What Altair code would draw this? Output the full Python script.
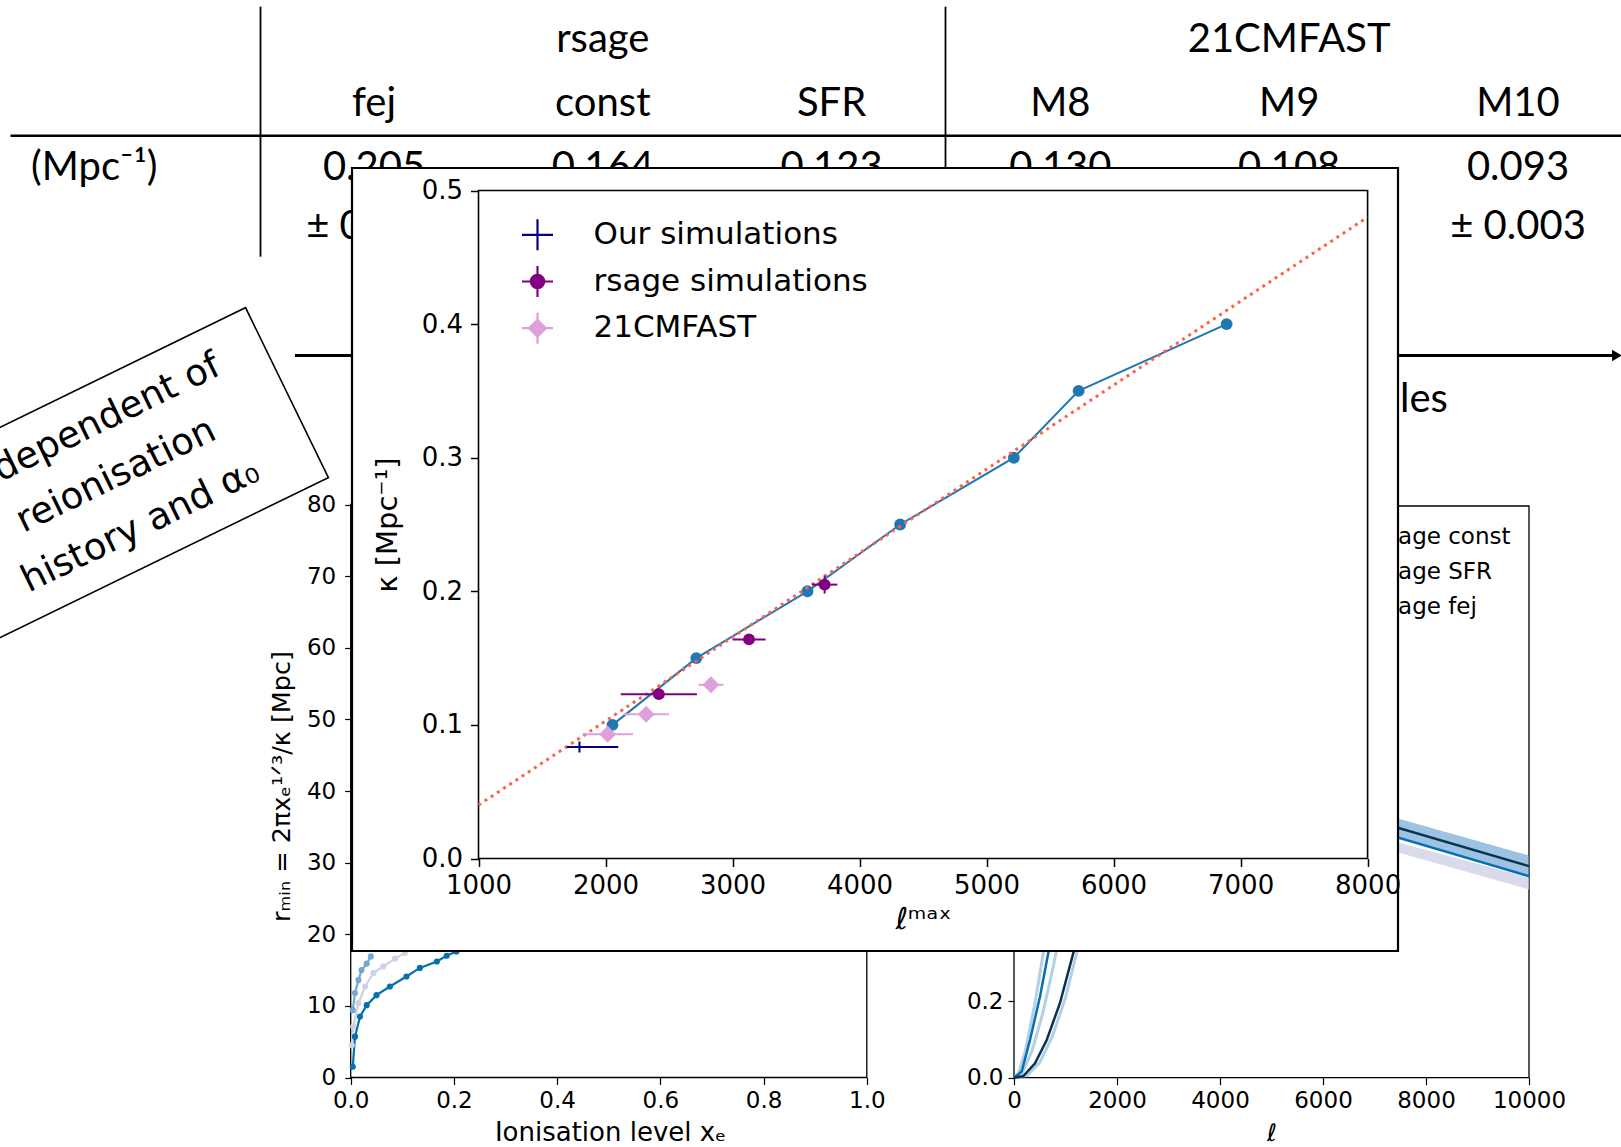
import altair as alt
import pandas as pd

# ---------------- slide table ----------------
table_groups = ["rsage", "21CMFAST"]
table_group_span = [[1, 3], [4, 6]]
table_cols = ["fej", "const", "SFR", "M8", "M9", "M10"]
table_kappa = ["0.205", "0.164", "0.123", "0.130", "0.108", "0.093"]
# only the first (partly) and last uncertainties can be seen; the rest sit under the inset
table_err = ["± 0.005", "", "", "", "", "± 0.003"]
table_row_label = "(Mpc⁻¹)"
table_row_index = [0, 1, 2, 2.92]   # header, sub-header, value, uncertainty

# ---------------- slide annotations ----------------
box_lines = ["Independent of", "reionisation", "history and α₀"]
arrow_caption = "les"

# ---------------- main chart: kappa vs l_max ----------------
x_domain = [1000, 8000]
y_domain = [0.0, 0.5]
sim_lmax = [2055, 2715, 3590, 4320, 5215, 5725, 6890]
sim_kappa = [0.100, 0.150, 0.200, 0.250, 0.300, 0.350, 0.400]
fit_lmax = [1000, 8000]
fit_kappa = [0.040, 0.480]
our_lmax = [1795]
our_kappa = [0.0835]
our_lmax_lo = [1695]
our_lmax_hi = [2100]
rsage_lmax = [2420, 3130, 3725]
rsage_kappa = [0.123, 0.164, 0.205]
rsage_lmax_err = [300, 130, 100]
rsage_kappa_err = [0.004, 0.004, 0.0067]
cm_lmax = [2830, 2320, 2017]
cm_kappa = [0.130, 0.108, 0.093]
cm_lmax_err = [98, 180, 200]
cm_kappa_err = [0.003, 0.003, 0.003]
legend_labels = ["Our simulations", "rsage simulations", "21CMFAST"]
legend_colors = ["#000080", "#800080", "#dda0dd"]

# ---------------- background plot (left): r_min vs x_e ----------------
left_series = ["light", "lavender", "dark"]
left_colors = ["#74a9cf", "#d0d1e6", "#0570b0"]
xe_light = [0.004, 0.0083, 0.015, 0.021, 0.031, 0.039]
r_light = [9.4, 11.8, 13.6, 15.0, 15.9, 16.9]
xe_lav = [0.002, 0.005, 0.015, 0.028, 0.044, 0.063, 0.086, 0.105]
r_lav = [4.5, 7.1, 10.4, 12.7, 14.6, 15.5, 16.6, 17.4]
xe_dark = [0.004, 0.0083, 0.018, 0.031, 0.050, 0.076, 0.108, 0.134, 0.167, 0.186, 0.205]
r_dark = [1.5, 5.7, 8.5, 10.1, 11.5, 12.7, 14.1, 15.3, 16.2, 17.0, 17.6]

# ---------------- background plot (right): curves vs l ----------------
right_labels = ["rsage const", "rsage SFR", "rsage fej"]
ell_dark = [0, 181, 408, 635, 893, 1151, 1400, 7456, 10000]
val_dark = [0.0, 0.004, 0.038, 0.099, 0.196, 0.327, 0.45, 0.656, 0.555]
ell_blue = [0, 149, 311, 505, 666, 900, 7456, 10000]
val_blue = [0.0, 0.016, 0.099, 0.213, 0.327, 0.5, 0.630, 0.529]
ell_fan1 = [0, 80, 220, 400, 569, 800]
val_fan1 = [0.0, 0.01, 0.07, 0.19, 0.327, 0.5]
ell_fan2 = [0, 150, 350, 560, 760, 950]
val_fan2 = [0.0, 0.01, 0.07, 0.17, 0.29, 0.42]
ell_fan3 = [0, 250, 500, 750, 1000, 1217, 1450]
val_fan3 = [0.0, 0.005, 0.04, 0.11, 0.21, 0.327, 0.45]
ell_band = [7456, 10000]
band_hi = [0.680, 0.583]
band_lo = [0.630, 0.525]
ell_lav = [7456, 10000]
lav_hi = [0.617, 0.525]
lav_lo = [0.591, 0.494]

T_FONT = "Lato"
M_FONT = "DejaVu Sans"
one = pd.DataFrame({"k": [0]})

# ================= table =================
rows = []
for g, (a, b) in zip(table_groups, table_group_span):
    rows.append({"col": (a + b) / 2, "row": table_row_index[0], "text": g})
for i, c in enumerate(table_cols, 1):
    rows.append({"col": i, "row": table_row_index[1], "text": c})
    rows.append({"col": i, "row": table_row_index[2], "text": table_kappa[i - 1]})
    if table_err[i - 1]:
        rows.append({"col": i, "row": table_row_index[3], "text": table_err[i - 1]})
table_df = pd.DataFrame(rows)
TX = alt.Scale(domain=[1, 6], range=[374, 1518], nice=False, zero=False)
TY = alt.Scale(domain=[0, 2], range=[51.7, 180], nice=False, zero=False)
table_text = alt.Chart(table_df).mark_text(
    font=T_FONT, fontSize=40, align="center", baseline="alphabetic", color="black"
).encode(
    x=alt.X("col:Q", scale=TX, axis=None),
    y=alt.Y("row:Q", scale=TY, axis=None),
    text="text:N",
)
row_label = alt.Chart(one).mark_text(
    font=T_FONT, fontSize=40, align="left", baseline="alphabetic", color="black"
).encode(x=alt.value(31), y=alt.value(180), text=alt.value(table_row_label))


def hrule(x1, x2, y, w):
    return alt.Chart(one).mark_rule(color="black", strokeWidth=w).encode(
        x=alt.value(x1), x2=alt.value(x2), y=alt.value(y))


def vrule(x, y1, y2, w):
    return alt.Chart(one).mark_rule(color="black", strokeWidth=w).encode(
        x=alt.value(x), y=alt.value(y1), y2=alt.value(y2))


table_lines = alt.layer(
    hrule(10.5, 1621, 135.7, 2.5),
    vrule(260.5, 6.7, 256.7, 1.8),
    vrule(945.5, 6.7, 256.7, 1.8),
)

arrow = alt.layer(
    hrule(295, 1616, 355.5, 3),
    alt.Chart(one).mark_point(shape="triangle-right", size=130, filled=True, color="black", opacity=1)
    .encode(x=alt.value(1617), y=alt.value(355.5)),
    alt.Chart(one).mark_text(font=T_FONT, fontSize=40, align="left", baseline="alphabetic", color="black")
    .encode(x=alt.value(1400), y=alt.value(411.7), text=alt.value(arrow_caption)),
)

# ================= left background plot =================
LX = alt.Scale(domain=[0, 1], range=[350.7, 866.8], nice=False, zero=False)
LY = alt.Scale(domain=[0, 80], range=[1077.5, 504.5], nice=False, zero=False)
lx_axis = alt.Axis(orient="bottom", offset=-69.5, values=[0, 0.2, 0.4, 0.6, 0.8, 1.0], format=".1f",
                   labelFont=M_FONT, labelFontSize=23, labelColor="black", tickColor="black", tickSize=7,
                   tickWidth=1.2, domain=False, grid=False, labelPadding=5, labelFlush=False, labelOverlap=False,
                   title="Ionisation level xₑ", titleFont=M_FONT, titleFontSize=26, titleFontWeight="normal",
                   titleColor="black", titleX=610, titleY=62.5, titleBaseline="alphabetic", titleAlign="center")
ly_axis = alt.Axis(orient="left", offset=-350.7, values=list(range(0, 81, 10)), format="d",
                   labelFont=M_FONT, labelFontSize=23, labelColor="black", tickColor="black", tickSize=6,
                   tickWidth=1.2, domain=False, grid=False, labelPadding=9, labelFlush=False, labelOverlap=False,
                   title="rₘᵢₙ = 2πxₑ¹ᐟ³/κ [Mpc]", titleFont=M_FONT, titleFontSize=25.5, titleFontWeight="normal",
                   titleColor="black", titleX=-69, titleY=786, titleAngle=270, titleBaseline="middle",
                   titleAlign="center")
left_df = pd.concat([
    pd.DataFrame({"series": "light", "xe": xe_light, "r": r_light}),
    pd.DataFrame({"series": "lavender", "xe": xe_lav, "r": r_lav}),
    pd.DataFrame({"series": "dark", "xe": xe_dark, "r": r_dark}),
])
lcol = alt.Color("series:N", scale=alt.Scale(domain=left_series, range=left_colors), legend=None)
left_frame = alt.Chart(pd.DataFrame({"x": [0], "x2": [1], "y": [0], "y2": [80]})).mark_rect(
    fill="transparent", stroke="black", strokeWidth=1.3
).encode(x=alt.X("x:Q", scale=LX, axis=lx_axis), x2="x2:Q",
         y=alt.Y("y:Q", scale=LY, axis=ly_axis), y2="y2:Q")
left_lines = alt.Chart(left_df).mark_line(strokeWidth=2.2).encode(
    x=alt.X("xe:Q", scale=LX, axis=lx_axis), y=alt.Y("r:Q", scale=LY, axis=ly_axis), color=lcol,
    detail="series:N")
left_pts = alt.Chart(left_df).mark_circle(size=38, opacity=1).encode(
    x=alt.X("xe:Q", scale=LX, axis=lx_axis), y=alt.Y("r:Q", scale=LY, axis=ly_axis), color=lcol)
left_plot = alt.layer(left_frame, left_lines, left_pts)

# ================= right background plot =================
RX = alt.Scale(domain=[0, 10000], range=[1014, 1529], nice=False, zero=False)
RY = alt.Scale(domain=[0, 1.5], range=[1077.7, 506], nice=False, zero=False)
rx_axis = alt.Axis(orient="bottom", offset=-69.3, values=list(range(0, 10001, 2000)), format="d",
                   labelFont=M_FONT, labelFontSize=23, labelColor="black", tickColor="black", tickSize=7,
                   tickWidth=1.2, domain=False, grid=False, labelPadding=5, labelFlush=False, labelOverlap=False,
                   title="ℓ", titleFont=M_FONT, titleFontSize=24, titleFontWeight="normal",
                   titleColor="black", titleX=1271.5, titleY=56, titleBaseline="middle", titleAlign="center")
ry_axis = alt.Axis(orient="left", offset=-1014, values=[0, 0.2, 0.4, 0.6, 0.8, 1.0, 1.2, 1.4], format=".1f",
                   labelFont=M_FONT, labelFontSize=23, labelColor="black", tickColor="black", tickSize=6,
                   tickWidth=1.2, domain=False, grid=False, labelPadding=5, labelFlush=False, labelOverlap=False,
                   title="")
rxe = alt.X("ell:Q", scale=RX, axis=rx_axis)


def ry(f):
    return alt.Y(f, scale=RY, axis=ry_axis)


right_frame = alt.Chart(pd.DataFrame({"ell": [0], "x2": [10000], "v": [0], "y2": [1.5]})).mark_rect(
    fill="transparent", stroke="black", strokeWidth=1.3
).encode(x=rxe, x2="x2:Q", y=ry("v:Q"), y2="y2:Q")
right_band = alt.Chart(pd.DataFrame({"ell": ell_band, "lo": band_lo, "hi": band_hi})).mark_area(
    color="#5a9bd0", opacity=0.6).encode(x=rxe, y=ry("lo:Q"), y2="hi:Q")
right_lav = alt.Chart(pd.DataFrame({"ell": ell_lav, "lo": lav_lo, "hi": lav_hi})).mark_area(
    color="#c9cbe3", opacity=0.7).encode(x=rxe, y=ry("lo:Q"), y2="hi:Q")
fan_df = pd.concat([
    pd.DataFrame({"s": "f1", "ell": ell_fan1, "v": val_fan1}),
    pd.DataFrame({"s": "f2", "ell": ell_fan2, "v": val_fan2}),
    pd.DataFrame({"s": "f3", "ell": ell_fan3, "v": val_fan3}),
])
right_fan = alt.Chart(fan_df).mark_line(color="#74a9cf", strokeWidth=3, opacity=0.55).encode(
    x=rxe, y=ry("v:Q"), detail="s:N")
right_blue = alt.Chart(pd.DataFrame({"ell": ell_blue, "v": val_blue})).mark_line(
    color="#0570b0", strokeWidth=2.5).encode(x=rxe, y=ry("v:Q"))
right_dark = alt.Chart(pd.DataFrame({"ell": ell_dark, "v": val_dark})).mark_line(
    color="#0b3350", strokeWidth=2.5).encode(x=rxe, y=ry("v:Q"))
right_legend = alt.Chart(one).mark_text(
    font=M_FONT, fontSize=23, align="left", baseline="alphabetic", color="black",
    lineBreak="\n", lineHeight=35
).encode(x=alt.value(1376.6), y=alt.value(544), text=alt.value("\n".join(right_labels)))
right_plot = alt.layer(right_frame, right_lav, right_band, right_fan, right_blue, right_dark, right_legend)

# ================= rotated note box =================
note = alt.layer(
    alt.Chart(one).mark_point(
        shape="M-1,-0.5027L1,-0.5027L1,0.5027L-1,0.5027Z", size=141376, angle=334,
        filled=True, fill="white", stroke="black", strokeWidth=1.6, opacity=1
    ).encode(x=alt.value(118), y=alt.value(475)),
    alt.Chart(one).mark_text(
        font=M_FONT, fontSize=37, angle=334, align="center", baseline="alphabetic",
        lineBreak="\n", lineHeight=56, color="black"
    ).encode(x=alt.value(96.3), y=alt.value(435.3), text=alt.value("\n".join(box_lines))),
)

# ================= inset white box =================
inset_box = alt.Chart(one).mark_rect(fill="white", stroke="black", strokeWidth=2.2).encode(
    x=alt.value(352), x2=alt.value(1398), y=alt.value(168), y2=alt.value(951))

# ================= main chart =================
MX = alt.Scale(domain=x_domain, range=[478.5, 1367.6], nice=False, zero=False)
MY = alt.Scale(domain=y_domain, range=[858.5, 190.5], nice=False, zero=False)
mx_axis = alt.Axis(orient="bottom", offset=-288.5, values=list(range(1000, 8001, 1000)), format="d",
                   labelFont=M_FONT, labelFontSize=26, labelColor="black", tickColor="black", tickSize=8,
                   tickWidth=1.5, domain=False, grid=False, labelPadding=6, labelFlush=False, labelOverlap=False,
                   title="ℓᵐᵃˣ", titleFont=M_FONT, titleFontSize=30, titleFontWeight="normal",
                   titleColor="black", titleX=923, titleY=61, titleBaseline="middle", titleAlign="center",
                   zindex=1)
my_axis = alt.Axis(orient="left", offset=-478.5, values=[0, 0.1, 0.2, 0.3, 0.4, 0.5], format=".1f",
                   labelFont=M_FONT, labelFontSize=26, labelColor="black", tickColor="black", tickSize=8,
                   tickWidth=1.5, domain=False, grid=False, labelPadding=8, labelFlush=False, labelOverlap=False,
                   title="κ [Mpc⁻¹]", titleFont=M_FONT, titleFontSize=29, titleFontWeight="normal",
                   titleColor="black", titleX=-91.5, titleY=524.5, titleAngle=270, titleBaseline="middle",
                   titleAlign="center", zindex=1)


def mx(f):
    return alt.X(f, scale=MX, axis=mx_axis)


def my(f):
    return alt.Y(f, scale=MY, axis=my_axis)


frame = alt.Chart(pd.DataFrame({"x": [x_domain[0]], "x2": [x_domain[1]], "y": [y_domain[0]], "y2": [y_domain[1]]})
                  ).mark_rect(fill="transparent", stroke="black", strokeWidth=1.6).encode(
    x=mx("x:Q"), x2="x2:Q", y=my("y:Q"), y2="y2:Q")

sim_df = pd.DataFrame({"lmax": sim_lmax, "kappa": sim_kappa})
sim_line = alt.Chart(sim_df).mark_line(color="#1f77b4", strokeWidth=2).encode(x=mx("lmax:Q"), y=my("kappa:Q"))
sim_pts = alt.Chart(sim_df).mark_point(shape="circle", filled=True, color="#1f77b4", size=141, opacity=1).encode(
    x=mx("lmax:Q"), y=my("kappa:Q"))
fit_line = alt.Chart(pd.DataFrame({"lmax": fit_lmax, "kappa": fit_kappa})).mark_line(
    color="#ff6347", strokeWidth=3, strokeDash=[3, 4.4]).encode(x=mx("lmax:Q"), y=my("kappa:Q"))

our_df = pd.DataFrame({"lmax": our_lmax, "kappa": our_kappa, "lo": our_lmax_lo, "hi": our_lmax_hi})
our_err = alt.Chart(our_df).mark_rule(color="#000080", strokeWidth=2).encode(
    x=mx("lo:Q"), x2="hi:Q", y=my("kappa:Q"))
our_mk = alt.Chart(our_df).mark_point(shape="M-1,0L1,0M0,-1L0,1", size=121, filled=False, color="#000080",
                                      strokeWidth=2, opacity=1).encode(x=mx("lmax:Q"), y=my("kappa:Q"))

rs_df = pd.DataFrame({"lmax": rsage_lmax, "kappa": rsage_kappa})
rs_df["lo"] = rs_df["lmax"] - pd.Series(rsage_lmax_err)
rs_df["hi"] = rs_df["lmax"] + pd.Series(rsage_lmax_err)
rs_df["klo"] = rs_df["kappa"] - pd.Series(rsage_kappa_err)
rs_df["khi"] = rs_df["kappa"] + pd.Series(rsage_kappa_err)
rs_xerr = alt.Chart(rs_df).mark_rule(color="#800080", strokeWidth=2).encode(x=mx("lo:Q"), x2="hi:Q", y=my("kappa:Q"))
rs_yerr = alt.Chart(rs_df).mark_rule(color="#800080", strokeWidth=2).encode(x=mx("lmax:Q"), y=my("klo:Q"), y2="khi:Q")
rs_mk = alt.Chart(rs_df).mark_point(shape="circle", filled=True, color="#800080", size=141, opacity=1).encode(
    x=mx("lmax:Q"), y=my("kappa:Q"))

cm_df = pd.DataFrame({"lmax": cm_lmax, "kappa": cm_kappa})
cm_df["lo"] = cm_df["lmax"] - pd.Series(cm_lmax_err)
cm_df["hi"] = cm_df["lmax"] + pd.Series(cm_lmax_err)
cm_df["klo"] = cm_df["kappa"] - pd.Series(cm_kappa_err)
cm_df["khi"] = cm_df["kappa"] + pd.Series(cm_kappa_err)
cm_xerr = alt.Chart(cm_df).mark_rule(color="#dda0dd", strokeWidth=2).encode(x=mx("lo:Q"), x2="hi:Q", y=my("kappa:Q"))
cm_yerr = alt.Chart(cm_df).mark_rule(color="#dda0dd", strokeWidth=2).encode(x=mx("lmax:Q"), y=my("klo:Q"), y2="khi:Q")
cm_mk = alt.Chart(cm_df).mark_point(shape="diamond", filled=True, color="#dda0dd", size=289, opacity=1).encode(
    x=mx("lmax:Q"), y=my("kappa:Q"))

legend_paths = [
    "M-1,0L1,0M0,-1L0,1",
    "M-1,0L1,0M0,-1L0,1M0.43,0A0.43,0.43,0,1,1,-0.43,0A0.43,0.43,0,1,1,0.43,0Z",
    "M-1,0L1,0M0,-1L0,1M0,-0.54L0.54,0L0,0.54L-0.54,0Z",
]
leg = alt.Legend(title=None, orient="none", legendX=520.5, legendY=217.8, labelFont=M_FONT, labelFontSize=31,
                 labelColor="black", symbolSize=961, symbolStrokeWidth=2.2, rowPadding=6.7, labelOffset=39,
                 padding=0, labelLimit=0)
leg_df = pd.DataFrame({"series": legend_labels, "lx": [None] * 3, "ly": [None] * 3})
legend_layer = alt.Chart(leg_df).mark_point(filled=True, opacity=1).encode(
    x=mx("lx:Q"), y=my("ly:Q"),
    shape=alt.Shape("series:N", scale=alt.Scale(domain=legend_labels, range=legend_paths), legend=leg),
    fill=alt.Fill("series:N", scale=alt.Scale(domain=legend_labels, range=legend_colors), legend=leg),
    stroke=alt.Stroke("series:N", scale=alt.Scale(domain=legend_labels, range=legend_colors), legend=leg),
)

main = alt.layer(frame, sim_line, sim_pts, fit_line, our_err, our_mk, rs_xerr, rs_yerr, rs_mk,
                 cm_xerr, cm_yerr, cm_mk, legend_layer)

chart = alt.layer(
    table_text, row_label, table_lines, arrow, left_plot, right_plot, note, inset_box, main
).resolve_scale(x="independent", y="independent").properties(
    width=1621, height=1147, autosize=alt.AutoSizeParams(type="none"), padding=0
).configure_view(strokeWidth=0)

chart.save("out.html", embed_options={"renderer": "svg", "actions": False})
